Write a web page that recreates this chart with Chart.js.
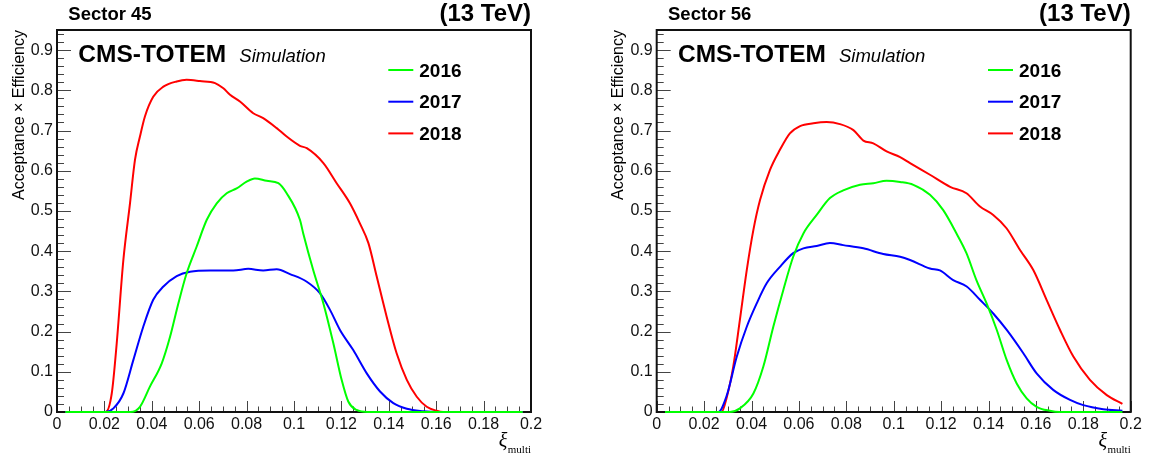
<!DOCTYPE html>
<html><head><meta charset="utf-8">
<script src="https://cdn.jsdelivr.net/npm/chart.js@4.4.1/dist/chart.umd.min.js"></script>
<style>
html,body{margin:0;padding:0;background:#fff;}
#wrap{position:relative;width:1150px;height:460px;background:#fff;}
.pane{position:absolute;top:0;width:575px;height:460px;}
</style></head><body>
<div id="wrap">
<div class="pane" style="left:0"><canvas id="c45" width="575" height="460"></canvas></div>
<div class="pane" style="left:575px"><canvas id="c56" width="575" height="460"></canvas></div>
</div>
<script>
const seriesLabels = ['2016', '2017', '2018'];
const seriesColors = ['#00ff00', '#0000ff', '#ff0000'];
const xTickValues = [0, 0.02, 0.04, 0.06, 0.08, 0.1, 0.12, 0.14, 0.16, 0.18, 0.2];
const xTickLabels = ['0', '0.02', '0.04', '0.06', '0.08', '0.1', '0.12', '0.14', '0.16', '0.18', '0.2'];
const yTickValues = [0, 0.1, 0.2, 0.3, 0.4, 0.5, 0.6, 0.7, 0.8, 0.9];
const yTickLabels = ['0', '0.1', '0.2', '0.3', '0.4', '0.5', '0.6', '0.7', '0.8', '0.9'];
const yAxisTitle = 'Acceptance \u00d7 Efficiency';

// Sector 45
const s45_2016_x = [0.0035, 0.031, 0.035, 0.0392, 0.0442, 0.0477, 0.0512, 0.0547, 0.0589, 0.0632, 0.0674, 0.0716, 0.0758, 0.080, 0.0835, 0.0885, 0.0934, 0.0969, 0.1025, 0.1039, 0.1081, 0.1124, 0.1166, 0.1201, 0.1229, 0.1264, 0.131, 0.1965];
const s45_2016_y = [0, 0, 0.013, 0.063, 0.121, 0.187, 0.27, 0.345, 0.411, 0.478, 0.519, 0.544, 0.556, 0.573, 0.581, 0.575, 0.569, 0.544, 0.478, 0.444, 0.353, 0.27, 0.171, 0.08, 0.026, 0.005, 0, 0];
const s45_2017_x = [0.0035, 0.0203, 0.0238, 0.028, 0.0322, 0.0364, 0.0406, 0.0449, 0.0505, 0.0561, 0.0646, 0.0744, 0.0807, 0.087, 0.0927, 0.0983, 0.1054, 0.111, 0.1152, 0.1194, 0.125, 0.1307, 0.1363, 0.1419, 0.1476, 0.1546, 0.16, 0.1965];
const s45_2017_y = [0, 0, 0.009, 0.046, 0.129, 0.212, 0.279, 0.312, 0.338, 0.349, 0.352, 0.352, 0.356, 0.352, 0.355, 0.343, 0.324, 0.295, 0.254, 0.204, 0.154, 0.096, 0.051, 0.022, 0.008, 0.002, 0, 0];
const s45_2018_x = [0.0035, 0.0205, 0.0231, 0.0252, 0.028, 0.0308, 0.0329, 0.035, 0.0371, 0.0406, 0.0449, 0.0505, 0.0547, 0.0603, 0.0667, 0.0702, 0.073, 0.0772, 0.0828, 0.087, 0.0927, 0.0969, 0.1025, 0.1054, 0.1124, 0.118, 0.1236, 0.1278, 0.1314, 0.1349, 0.1391, 0.1433, 0.1476, 0.1518, 0.156, 0.1602, 0.163, 0.1965];
const s45_2018_y = [0, 0, 0.046, 0.171, 0.378, 0.519, 0.627, 0.685, 0.735, 0.784, 0.809, 0.822, 0.826, 0.823, 0.818, 0.805, 0.789, 0.772, 0.743, 0.731, 0.706, 0.685, 0.662, 0.656, 0.619, 0.569, 0.519, 0.469, 0.42, 0.337, 0.237, 0.146, 0.08, 0.038, 0.013, 0.003, 0, 0];

// Sector 56
const s56_2016_x = [0.0035, 0.0309, 0.0351, 0.0408, 0.045, 0.0492, 0.0534, 0.0576, 0.0619, 0.0675, 0.0731, 0.0787, 0.0858, 0.0914, 0.097, 0.1027, 0.1083, 0.1153, 0.1209, 0.1265, 0.1307, 0.1349, 0.1392, 0.1435, 0.1477, 0.1519, 0.1561, 0.1603, 0.1659, 0.17, 0.1965];
const s56_2016_y = [0, 0, 0.009, 0.046, 0.113, 0.212, 0.303, 0.386, 0.444, 0.49, 0.532, 0.551, 0.565, 0.569, 0.575, 0.572, 0.565, 0.54, 0.502, 0.444, 0.395, 0.328, 0.27, 0.204, 0.129, 0.071, 0.034, 0.013, 0.003, 0, 0];
const s56_2017_x = [0.0035, 0.026, 0.0295, 0.0338, 0.038, 0.0422, 0.0464, 0.052, 0.0576, 0.0619, 0.0675, 0.0731, 0.0787, 0.0872, 0.0956, 0.1027, 0.1069, 0.1153, 0.1195, 0.1251, 0.1308, 0.1364, 0.142, 0.1477, 0.1547, 0.1603, 0.1673, 0.1744, 0.18, 0.1884, 0.1965];
const s56_2017_y = [0, 0, 0.04, 0.138, 0.212, 0.27, 0.32, 0.361, 0.395, 0.407, 0.413, 0.42, 0.415, 0.407, 0.393, 0.386, 0.378, 0.357, 0.352, 0.328, 0.312, 0.279, 0.245, 0.204, 0.146, 0.096, 0.055, 0.03, 0.017, 0.007, 0.003];
const s56_2018_x = [0.0035, 0.0274, 0.0295, 0.0323, 0.0351, 0.038, 0.0408, 0.0436, 0.0478, 0.052, 0.0562, 0.0605, 0.0661, 0.0717, 0.0773, 0.083, 0.0872, 0.0914, 0.097, 0.1027, 0.1069, 0.1153, 0.1238, 0.1307, 0.1364, 0.142, 0.1476, 0.1533, 0.1589, 0.1645, 0.1702, 0.1758, 0.1828, 0.1899, 0.1965];
const s56_2018_y = [0, 0, 0.035, 0.113, 0.229, 0.353, 0.453, 0.527, 0.602, 0.652, 0.693, 0.711, 0.718, 0.721, 0.716, 0.701, 0.675, 0.668, 0.648, 0.634, 0.619, 0.59, 0.56, 0.544, 0.511, 0.49, 0.457, 0.403, 0.353, 0.279, 0.204, 0.138, 0.08, 0.042, 0.02];

const SANS = "'Liberation Sans', Arial, Helvetica, sans-serif";
const SERIF = "'Liberation Serif', 'Times New Roman', serif";

const decorPlugin = {
  id: 'decor',
  beforeDatasetsDraw(chart, args, o) {
    const {ctx, chartArea: a, scales: {x, y}} = chart;
    ctx.save();
    ctx.strokeStyle = '#444';
    ctx.lineWidth = 1;
    ctx.beginPath();
    for (let k = 0; k <= 47; k++) {
      const v = k * 0.02;
      const py = Math.round(y.getPixelForValue(v)) + 0.5;
      const len = (k % 5 === 0) ? 14 : 7;
      ctx.moveTo(a.left, py); ctx.lineTo(a.left + len, py);
    }
    for (let k = 0; k <= 40; k++) {
      const v = k * 0.005;
      const px = Math.round(x.getPixelForValue(v)) + 0.5;
      const len = (k % 4 === 0) ? 11 : 5.5;
      ctx.moveTo(px, a.bottom); ctx.lineTo(px, a.bottom - len);
    }
    ctx.stroke();
    ctx.strokeStyle = '#111';
    ctx.lineWidth = 2;
    ctx.strokeRect(a.left, a.top, a.right - a.left, a.bottom - a.top);
    ctx.restore();
  },
  afterDraw(chart, args, o) {
    const {ctx, chartArea: a} = chart;
    ctx.save();
    ctx.fillStyle = '#000';
    ctx.textBaseline = 'alphabetic';
    ctx.textAlign = 'left';
    ctx.font = 'bold 18.5px ' + SANS;
    ctx.fillText(o.sector, a.left + 11.3, 20);
    ctx.textAlign = 'right';
    ctx.font = 'bold 24px ' + SANS;
    ctx.fillText('(13 TeV)', a.right, 21);
    ctx.textAlign = 'left';
    ctx.font = 'bold 24.5px ' + SANS;
    ctx.fillText('CMS-TOTEM', a.left + 21.3, 62);
    ctx.font = 'italic 18.5px ' + SANS;
    ctx.fillText('Simulation', a.left + 182.3, 62);
    // legend
    chart.data.datasets.forEach((ds, i) => {
      const ly = a.top + 40 + i * 31.7;
      ctx.strokeStyle = ds.borderColor;
      ctx.lineWidth = 2;
      ctx.beginPath();
      ctx.moveTo(a.left + 331.3, ly); ctx.lineTo(a.left + 356.3, ly);
      ctx.stroke();
      ctx.fillStyle = '#000';
      ctx.font = 'bold 19px ' + SANS;
      ctx.fillText(ds.label, a.left + 362.3, a.top + 46.7 + i * 31.7);
    });
    // x axis title: xi_multi
    ctx.textAlign = 'right';
    ctx.font = '11px ' + SERIF;
    const sub = 'multi';
    const w = ctx.measureText(sub).width;
    ctx.fillText(sub, a.right, 453);
    ctx.font = 'italic 20px ' + SERIF;
    ctx.fillText('\u03be', a.right - w - 0.5, 447);
    ctx.restore();
  }
};

function makeChart(id, cfg) {
  const datasets = cfg.series.map((s, i) => ({
    label: seriesLabels[i],
    data: s[0].map((xv, j) => ({x: xv, y: s[1][j]})),
    borderColor: seriesColors[i],
    backgroundColor: seriesColors[i],
    borderWidth: 2,
    pointRadius: 0,
    fill: false,
    cubicInterpolationMode: 'monotone',
    clip: 4
  }));
  return new Chart(document.getElementById(id), {
    type: 'line',
    data: {datasets},
    options: {
      responsive: false,
      animation: false,
      events: [],
      layout: {padding: {left: cfg.padLeft, right: cfg.padRight, top: 30, bottom: 0}},
      plugins: {
        legend: {display: false},
        tooltip: {enabled: false},
        decor: {sector: cfg.sector}
      },
      scales: {
        x: {
          type: 'linear', min: 0, max: 0.2,
          afterBuildTicks: s => { s.ticks = xTickValues.map(v => ({value: v})); },
          afterFit: s => { s.height = 48; },
          grid: {display: false, drawTicks: false},
          border: {display: false},
          ticks: {
            autoSkip: false, maxRotation: 0, minRotation: 0, padding: 3,
            color: '#111', font: {family: SANS, size: 16},
            callback: (v, i) => xTickLabels[i]
          }
        },
        y: {
          type: 'linear', min: 0, max: 0.95,
          afterBuildTicks: s => { s.ticks = yTickValues.map(v => ({value: v})); },
          afterFit: s => { s.width = cfg.yWidth; },
          grid: {display: false, drawTicks: false},
          border: {display: false},
          ticks: {
            autoSkip: false, padding: 4,
            color: '#111', font: {family: SANS, size: 16},
            callback: (v, i) => yTickLabels[i]
          },
          title: {
            display: true, text: yAxisTitle, align: 'end',
            padding: {top: 4, bottom: 0},
            color: '#000', font: {family: SANS, size: 16}
          }
        }
      }
    },
    plugins: [decorPlugin]
  });
}

makeChart('c45', {
  sector: 'Sector 45', padLeft: 6, yWidth: 51, padRight: 44,
  series: [[s45_2016_x, s45_2016_y], [s45_2017_x, s45_2017_y], [s45_2018_x, s45_2018_y]]
});
makeChart('c56', {
  sector: 'Sector 56', padLeft: 30, yWidth: 51.7, padRight: 19.3,
  series: [[s56_2016_x, s56_2016_y], [s56_2017_x, s56_2017_y], [s56_2018_x, s56_2018_y]]
});
</script>
</body></html>
